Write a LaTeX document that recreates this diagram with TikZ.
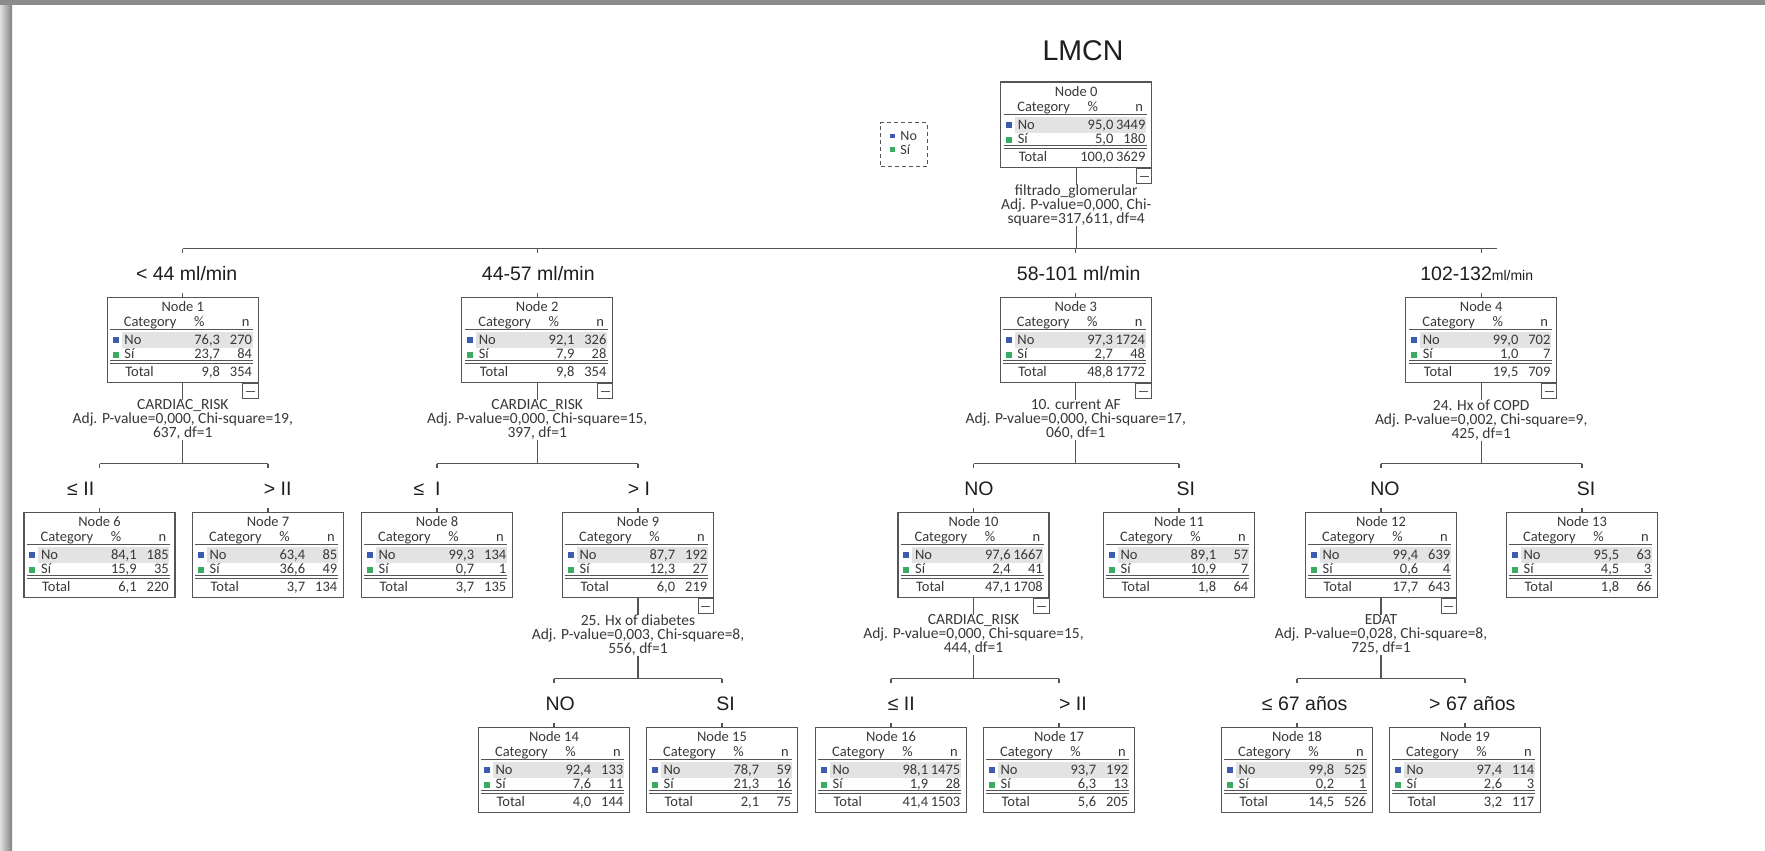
\documentclass[tikz,border=0pt]{standalone}
\usepackage{fontspec}
\setmainfont{Carlito}
\newfontfamily\labelfamily{Liberation Sans}
\usetikzlibrary{calc}

\definecolor{noblue}{HTML}{3D5BB0}
\definecolor{sigreen}{HTML}{38AD62}
\definecolor{rowgray}{HTML}{E3E3E3}
\definecolor{boxline}{HTML}{555555}
\definecolor{boxtext}{HTML}{383838}
\definecolor{labeltext}{HTML}{1E1E1E}

% one node table: id, x, top, No %, No n, Si %, Si n, Total %, Total n
\newcommand{\treebox}[9]{%
  \node[nodebox, anchor=north] (n#1) at (#2,#3) {};
  \fill[rowgray] ($(n#1.north west)+(15,35.5)$) rectangle ($(n#1.north west)+(146,51)$);
  \fill[noblue] ($(n#1.north west)+(6,40)$) rectangle +(6,6);
  \fill[sigreen] ($(n#1.north west)+(6,55.5)$) rectangle +(6,6);
  \draw[rule] ($(n#1.north west)+(3.5,33.3)$) -- +(143,0);
  \draw[rule] ($(n#1.north west)+(3.5,64.3)$) -- +(143,0);
  \draw[rule] ($(n#1.north west)+(3.5,66.6)$) -- +(143,0);
  \node[cell, anchor=base] (n#1-head) at ($(n#1.north)+(0,15)$) {Node #1};
  \node[cell, anchor=base west] (n#1-cat) at ($(n#1.north west)+(17,30.3)$) {Category};
  \node[cell, anchor=base] (n#1-pc) at ($(n#1.north west)+(92.6,30.3)$) {\%};
  \node[cell, anchor=base east] (n#1-nc) at ($(n#1.north west)+(143,30.3)$) {n};
  \node[cell, anchor=base west] (n#1-no) at ($(n#1.north west)+(17.5,48)$) {No};
  \node[cell, anchor=base east] (n#1-nop) at ($(n#1.north west)+(113.5,48)$) {#4};
  \node[cell, anchor=base east] (n#1-non) at ($(n#1.north west)+(145.5,48)$) {#5};
  \node[cell, anchor=base west] (n#1-si) at ($(n#1.north west)+(17.5,62)$) {Sí};
  \node[cell, anchor=base east] (n#1-sip) at ($(n#1.north west)+(113.5,62)$) {#6};
  \node[cell, anchor=base east] (n#1-sin) at ($(n#1.north west)+(145.5,62)$) {#7};
  \node[cell, anchor=base west] (n#1-tot) at ($(n#1.north west)+(18.5,80.3)$) {Total};
  \node[cell, anchor=base east] (n#1-totp) at ($(n#1.north west)+(113.5,80.3)$) {#8};
  \node[cell, anchor=base east] (n#1-totn) at ($(n#1.north west)+(145.5,80.3)$) {#9};
}

\begin{document}
\begin{tikzpicture}[
    x=1pt, y=-1pt,
    nodebox/.style={draw=boxline, line width=1.2pt, fill=white,
                    minimum width=151pt, minimum height=85pt, inner sep=0pt},
    cell/.style={inner sep=0pt, text=boxtext, font=\fontsize{14.5}{17}\selectfont},
    split/.style={inner sep=0pt, align=center, text=boxtext,
                  font=\fontsize{15.5}{14}\selectfont},
    branch/.style={inner sep=0pt, anchor=base, text=labeltext,
                   font=\labelfamily\fontsize{19.5}{22}\selectfont},
    link/.style={draw=boxline, line width=1.2pt},
    rule/.style={draw=boxline, line width=0.9pt},
    minusbox/.style={draw=boxline, line width=1pt, fill=white,
                     minimum size=15.5pt, inner sep=0pt, anchor=north east},
    legendbox/.style={draw=boxline, line width=1pt, dash pattern=on 4pt off 3pt,
                      minimum width=46.5pt, minimum height=43.5pt, inner sep=0pt}
  ]
  \useasboundingbox (0,0) rectangle (1765,851);
  % screenshot frame
  \fill[white] (0,0) rectangle (1765,851);
  \shade[left color=black!12, right color=black!50] (0,0) rectangle (12,851);
  \fill[black!45] (0,0) rectangle (1765,5);

  \node[inner sep=0pt, anchor=base, text=labeltext,
        font=\labelfamily\fontsize{28.5}{30}\selectfont] (title) at (1083,60.7) {LMCN};

  % legend
  \node[legendbox] (leg) at (904,144.3) {};
  \fill[noblue] ($(leg.north west)+(10,11.6)$) rectangle +(4.5,4.5);
  \fill[sigreen] ($(leg.north west)+(10,25)$) rectangle +(4.5,4.5);
  \node[cell, anchor=base west, font=\fontsize{14}{15}\selectfont] (leg-no)
    at ($(leg.north west)+(20,18.5)$) {No};
  \node[cell, anchor=base west, font=\fontsize{14}{15}\selectfont] (leg-si)
    at ($(leg.north west)+(20,32)$) {Sí};

  % node tables
  \treebox{0}{1076.2}{81.5}{95,0}{3449}{5,0}{180}{100,0}{3629}
  \treebox{1}{182.8}{296.5}{76,3}{270}{23,7}{84}{9,8}{354}
  \treebox{2}{537.2}{296.5}{92,1}{326}{7,9}{28}{9,8}{354}
  \treebox{3}{1075.8}{296.5}{97,3}{1724}{2,7}{48}{48,8}{1772}
  \treebox{4}{1481.2}{296.5}{99,0}{702}{1,0}{7}{19,5}{709}
  \treebox{6}{99.5}{511.5}{84,1}{185}{15,9}{35}{6,1}{220}
  \treebox{7}{268}{511.5}{63,4}{85}{36,6}{49}{3,7}{134}
  \treebox{8}{437}{511.5}{99,3}{134}{0,7}{1}{3,7}{135}
  \treebox{9}{638}{511.5}{87,7}{192}{12,3}{27}{6,0}{219}
  \treebox{10}{973.5}{511.5}{97,6}{1667}{2,4}{41}{47,1}{1708}
  \treebox{11}{1179}{511.5}{89,1}{57}{10,9}{7}{1,8}{64}
  \treebox{12}{1381}{511.5}{99,4}{639}{0,6}{4}{17,7}{643}
  \treebox{13}{1582}{511.5}{95,5}{63}{4,5}{3}{1,8}{66}
  \treebox{14}{554}{726.5}{92,4}{133}{7,6}{11}{4,0}{144}
  \treebox{15}{722}{726.5}{78,7}{59}{21,3}{16}{2,1}{75}
  \treebox{16}{891}{726.5}{98,1}{1475}{1,9}{28}{41,4}{1503}
  \treebox{17}{1059}{726.5}{93,7}{192}{6,3}{13}{5,6}{205}
  \treebox{18}{1297}{726.5}{99,8}{525}{0,2}{1}{14,5}{526}
  \treebox{19}{1465}{726.5}{97,4}{114}{2,6}{3}{3,2}{117}

  % split statistics
  \node[split, anchor=north] (s0) at ($(n0.south)+(0,17)$)
    {filtrado\_glomerular\\Adj. P-value=0,000, Chi-\\square=317,611, df=4};
  \node[split, anchor=north] (s1) at ($(n1.south)+(0,17)$)
    {CARDIAC\_RISK\\Adj. P-value=0,000, Chi-square=19,\\637, df=1};
  \node[split, anchor=north] (s2) at ($(n2.south)+(0,17)$)
    {CARDIAC\_RISK\\Adj. P-value=0,000, Chi-square=15,\\397, df=1};
  \node[split, anchor=north] (s3) at ($(n3.south)+(0,17)$)
    {10. current AF\\Adj. P-value=0,000, Chi-square=17,\\060, df=1};
  \node[split, anchor=north] (s4) at ($(n4.south)+(0,17)$)
    {24. Hx of COPD\\Adj. P-value=0,002, Chi-square=9,\\425, df=1};
  \node[split, anchor=north] (s9) at ($(n9.south)+(0,17)$)
    {25. Hx of diabetes\\Adj. P-value=0,003, Chi-square=8,\\556, df=1};
  \node[split, anchor=north] (s10) at ($(n10.south)+(0,17)$)
    {CARDIAC\_RISK\\Adj. P-value=0,000, Chi-square=15,\\444, df=1};
  \node[split, anchor=north] (s12) at ($(n12.south)+(0,17)$)
    {EDAT\\Adj. P-value=0,028, Chi-square=8,\\725, df=1};

  % branch labels
  \node[branch] (b1) at (186.7,280.5) {< 44 ml/min};
  \node[branch] (b2) at (538.3,280.5) {44-57 ml/min};
  \node[branch] (b3) at (1078.7,280.5) {58-101 ml/min};
  \node[branch] (b4) at (1476.7,280.5) {102-132{\fontsize{14}{16}\selectfont ml/min}};
  \node[branch] (b6) at (80.7,495.5) {≤ II};
  \node[branch] (b7) at (277.7,495.5) {> II};
  \node[branch] (b8) at (427,495.5) {≤ \ I};
  \node[branch] (b9) at (639,495.5) {> I};
  \node[branch] (b10) at (979,495.5) {NO};
  \node[branch] (b11) at (1185.7,495.5) {SI};
  \node[branch] (b12) at (1385,495.5) {NO};
  \node[branch] (b13) at (1586,495.5) {SI};
  \node[branch] (b14) at (560.2,710.5) {NO};
  \node[branch] (b15) at (725.5,710.5) {SI};
  \node[branch] (b16) at (901.3,710.5) {≤ II};
  \node[branch] (b17) at (1073,710.5) {> II};
  \node[branch] (b18) at (1304.7,710.5) {≤ 67 años};
  \node[branch] (b19) at (1472.3,710.5) {> 67 años};

  % connectors
  \foreach \p in {0,1,2,3,4,9,10,12} {
    \node[minusbox] (m\p) at (n\p.south east) {};
    \draw[rule] ($(m\p.center)+(-4.5,0)$) -- ($(m\p.center)+(4.5,0)$);
    \draw[link] (n\p.south) -- (s\p.north);
    \coordinate (h\p) at ($(n\p.south)+(0,81)$);
    \draw[link] (s\p.south) -- (h\p);
  }
  \draw[link] (h0 -| n1) -- ($(h0 -| n4)+(16,0)$);
  \foreach \c in {1,2,3,4} {
    \draw[link] (h0 -| n\c) -- ++(0,4);
    \draw[link] (n\c.north) -- ++(0,-4);
  }
  \foreach \p/\a/\b in {1/6/7, 2/8/9, 3/10/11, 4/12/13, 9/14/15, 10/16/17, 12/18/19} {
    \draw[link] (h\p -| n\a) -- (h\p -| n\b);
    \foreach \c in {\a,\b} {
      \draw[link] (h\p -| n\c) -- ++(0,4);
      \draw[link] (n\c.north) -- ++(0,-4);
    }
  }
\end{tikzpicture}
\end{document}
